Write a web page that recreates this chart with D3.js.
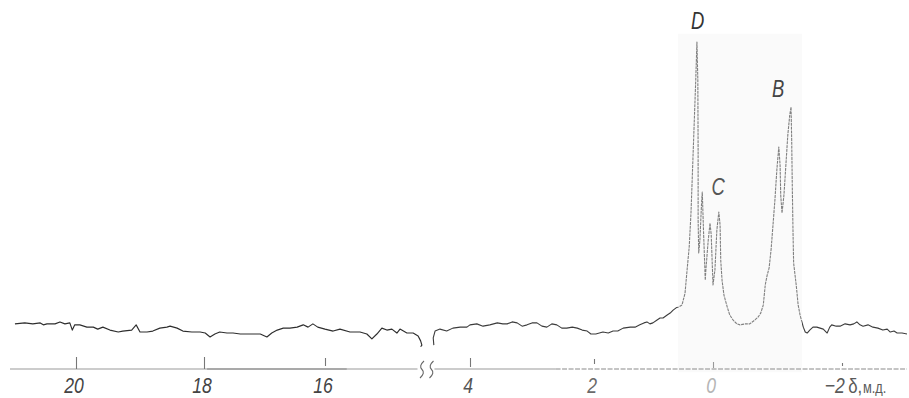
<!DOCTYPE html>
<html>
<head>
<meta charset="utf-8">
<script src="https://cdn.jsdelivr.net/npm/d3@7"></script>
<style>
  body { margin: 0; background: #fff; }
  svg { display: block; }
  .lbl { font-family: "Liberation Sans", Arial, sans-serif; font-style: italic; }
  .unit { font-family: "Liberation Sans", Arial, sans-serif; font-style: normal; }
</style>
</head>
<body>
<svg id="chart" width="909" height="398"></svg>
<script>
// chemical shift (ppm) and relative height (D peak = 100)
const leftShift = [20.99, 20.83, 20.70, 20.58, 20.53, 20.47, 20.34, 20.26, 20.18, 20.10, 20.06, 20.02,
  19.94, 19.83, 19.73, 19.66, 19.58, 19.47, 19.34, 19.27, 19.13, 19.06, 19.00, 18.89, 18.80, 18.69,
  18.58, 18.53, 18.42, 18.33, 18.19, 18.06, 17.98, 17.90, 17.82, 17.74, 17.62, 17.52, 17.40, 17.24,
  17.07, 16.96, 16.88, 16.79, 16.69, 16.58, 16.46, 16.36, 16.28, 16.20, 16.12, 16.00, 15.87, 15.76,
  15.60, 15.44, 15.33, 15.25, 15.17, 15.09, 15.01, 14.93, 14.85, 14.80, 14.69, 14.59, 14.51, 14.47,
  14.45, 14.47];
const leftHeight = [13.8, 14.1, 13.8, 14.1, 13.5, 13.8, 13.8, 14.4, 13.8, 14.1, 11.9, 13.5,
  13.5, 12.8, 12.8, 12.2, 12.8, 11.9, 11.3, 11.6, 11.9, 13.5, 11.3, 11.3, 11.6, 12.5,
  12.8, 13.1, 12.5, 11.6, 11.3, 11.3, 11.0, 9.8, 10.7, 11.3, 11.0, 11.0, 10.7, 10.7,
  10.7, 9.8, 11.0, 11.9, 12.5, 12.5, 12.8, 13.5, 12.8, 13.8, 12.8, 12.2, 11.6, 12.2,
  11.3, 11.3, 10.7, 9.2, 10.7, 12.5, 11.9, 12.2, 11.0, 12.2, 11.0, 11.0, 10.1, 8.6,
  7.3, 6.8];

const rightShift = [4.59, 4.60, 4.57, 4.49, 4.38, 4.28, 4.16, 4.05, 4.00, 3.89, 3.79, 3.68, 3.56,
  3.47, 3.40, 3.32, 3.24, 3.16, 3.08, 3.00, 2.92, 2.84, 2.76, 2.68, 2.60, 2.52, 2.44, 2.35, 2.27,
  2.19, 2.11, 2.05, 1.97, 1.85, 1.76, 1.68, 1.60, 1.51, 1.39, 1.31, 1.23, 1.16, 1.11, 1.06, 1.01,
  0.94, 0.89, 0.84, 0.77, 0.72, 0.67, 0.62, 0.57, 0.52, 0.47, 0.44, 0.40, 0.37, 0.35, 0.32, 0.29,
  0.27, 0.255, 0.25, 0.25, 0.24, 0.22, 0.19, 0.18, 0.16, 0.13, 0.12, 0.08, 0.05, 0.03, 0.00,
  -0.03, -0.06, -0.09, -0.11, -0.12, -0.14, -0.17, -0.22, -0.26, -0.31, -0.37, -0.42, -0.50,
  -0.57, -0.65, -0.70, -0.74, -0.78, -0.81, -0.84, -0.87, -0.90, -0.93, -0.96, -0.99, -1.02,
  -1.04, -1.05, -1.07, -1.10, -1.13, -1.16, -1.19, -1.21, -1.22, -1.23, -1.24, -1.25, -1.29,
  -1.32, -1.35, -1.40, -1.43, -1.46, -1.50, -1.55, -1.61, -1.66, -1.71, -1.77, -1.81, -1.84,
  -1.91, -1.97, -2.05, -2.13, -2.19, -2.24, -2.29, -2.34, -2.42, -2.50, -2.58, -2.66, -2.73,
  -2.78, -2.84, -2.89, -2.97, -3.05];
const rightHeight = [7.3, 9.5, 11.6, 12.2, 11.6, 12.5, 12.8, 12.8, 13.5, 13.8, 13.1, 13.5, 14.1,
  13.8, 13.8, 14.4, 14.1, 13.1, 13.5, 14.1, 14.1, 13.1, 12.8, 13.8, 13.5, 12.5, 12.5, 12.8, 12.5,
  11.9, 11.6, 10.7, 10.7, 11.3, 11.0, 11.6, 11.6, 12.5, 12.8, 12.8, 13.5, 14.1, 14.4, 13.8, 14.1,
  15.0, 15.6, 15.6, 16.5, 17.1, 18.0, 18.7, 19.0, 19.6, 23.2, 29.4, 37.3, 47.7, 57.8, 73.1, 88.4,
  100, 88.4, 67.0, 45.6, 35.5, 39.4, 51.7, 54.1, 42.5, 27.2, 30.3, 39.4, 44.6, 41.0, 25.7,
  30.3, 42.5, 48.0, 44.0, 33.3, 27.2, 22.6, 19.0, 16.5, 15.0, 13.8, 13.5, 13.8,
  13.8, 15.0, 15.9, 17.1, 19.6, 25.7, 28.7, 30.9, 36.4, 44.0, 51.7, 60.9, 67.9,
  62.4, 53.2, 47.7, 53.2, 62.4, 71.6, 77.7, 80.1, 70.0, 55.0, 42.5, 32.4, 25.7,
  19.6, 16.5, 12.8, 11.3, 11.0, 11.9, 12.8, 12.8, 12.5, 12.2, 11.0, 12.8, 13.5,
  13.1, 13.1, 13.8, 13.5, 13.8, 14.4, 13.5, 13.1, 13.5, 12.8, 12.5, 11.9, 12.2,
  11.3, 11.6, 11.0, 11.0, 10.7];

const leftTicks = [20, 18, 16];
const rightTicks = [4, 2, 0, -2];
const peakNames = ["D", "C", "B"];
const peakShift = [0.26, -0.08, -1.01];
const peakHeight = [104, 53.2, 83.2];
const expandedRange = [0.59, -1.38];   // shaded (expanded) region, ppm

const W = 909, H = 398;
const SQUEEZE = "scale(0.8,1)";        // narrow drafting lettering
const svg = d3.select("#chart");
svg.append("rect").attr("width", W).attr("height", H).attr("fill", "#fff");

// broken axis: two pieces, each a little uneven like the paper scale
const xLeft = d3.scaleLinear().domain([21.07, 20, 18, 16, 14.40]).range([10, 76, 204, 325, 425]);
const xRight = d3.scaleLinear().domain([4.62, 4, 2, 0, -2, -3.05]).range([432, 470, 594, 713, 842, 907]);
const y = d3.scaleLinear().domain([0, 100]).range([369, 42]);
const axisY = y(0);

// expanded region backdrop
const shadeX0 = xRight(expandedRange[0]), shadeX1 = xRight(expandedRange[1]);
svg.append("rect")
  .attr("x", shadeX0).attr("y", y(102.5))
  .attr("width", shadeX1 - shadeX0).attr("height", y(-1) - y(102.5))
  .attr("fill", "#fafafa");
svg.append("clipPath").attr("id", "inside")
  .append("rect").attr("x", shadeX0).attr("y", 0).attr("width", shadeX1 - shadeX0).attr("height", H);
svg.append("clipPath").attr("id", "outside")
  .append("path").attr("d", `M0,0H${shadeX0}V${H}H0Z M${shadeX1},0H${W}V${H}H${shadeX1}Z`);

// axis lines
const axisParts = [
  { x: xLeft, from: 21.07, to: 17.95, color: "#9a9a9a", dash: null },
  { x: xLeft, from: 17.95, to: 15.65, color: "#555", dash: null },
  { x: xLeft, from: 15.65, to: 14.52, color: "#9a9a9a", dash: null },
  { x: xRight, from: 4.58, to: 2.62, color: "#999", dash: null },
  { x: xRight, from: 2.62, to: -3.05, color: "#8a8a8a", dash: "5,1.5" }
];
svg.selectAll(".axis-part").data(axisParts).join("line")
  .attr("class", "axis-part")
  .attr("x1", d => d.x(d.from)).attr("x2", d => d.x(d.to))
  .attr("y1", axisY).attr("y2", axisY)
  .attr("stroke", d => d.color).attr("stroke-width", 1.2)
  .attr("stroke-dasharray", d => d.dash);

// break marks on the axis
[xLeft.range().at(-1) - 3, xRight.range()[0] - 0.5].forEach(bx => {
  svg.append("path")
    .attr("d", `M${bx + 2},361 Q${bx - 3.5},366 ${bx},369.5 Q${bx + 3.5},373 ${bx - 2},378`)
    .attr("fill", "none").attr("stroke", "#666").attr("stroke-width", 1.1);
});

// ticks and labels
const tickSpan = { 20: [-12, 0], 18: [-12, 0], 16: [-11, -3], 4: [-11, -2], 2: [-10, -5], 0: [-7, -1], "-2": [-6, -3] };
const tickInk = { 20: "#444", 18: "#444", 16: "#444", 4: "#555", 2: "#6a6a6a", 0: "#b5b5b5", "-2": "#5a5a5a" };
const fmt = d => d < 0 ? "\u2212" + (-d) : String(d);

function drawAxis(scale, ticks) {
  const g = svg.append("g").attr("transform", `translate(0,${axisY})`)
    .call(d3.axisBottom(scale).tickValues(ticks).tickFormat(fmt)
      .tickSizeInner(-12).tickSizeOuter(0).tickPadding(8));
  g.select(".domain").remove();
  g.attr("font-family", null).attr("font-size", null);
  g.selectAll(".tick line")
    .attr("y1", d => tickSpan[d][0]).attr("y2", d => tickSpan[d][1])
    .attr("stroke", d => d === 0 ? "#999" : "#777").attr("stroke-width", 1.1);
  g.selectAll(".tick text")
    .attr("class", "lbl")
    .attr("font-size", 22)
    .attr("fill", d => tickInk[d])
    .attr("text-anchor", d => d < 0 ? "end" : "middle")
    .attr("x", d => d < 0 ? 3 : -3)
    .attr("transform", SQUEEZE);
}
drawAxis(xLeft, leftTicks);
drawAxis(xRight, rightTicks);

// unit label after −2
svg.append("text").attr("class", "unit")
  .attr("transform", `translate(${xRight(-2.1)},393) ${SQUEEZE}`)
  .attr("fill", "#5a5a5a").attr("font-size", 21)
  .text("\u03b4,")
  .append("tspan").attr("font-size", 16).attr("dx", 1).text("м.д.");

// spectrum trace
const leftData = leftShift.map((s, i) => [s, leftHeight[i]]);
const rightData = rightShift.map((s, i) => [s, rightHeight[i]]);
const lineL = d3.line().x(d => xLeft(d[0])).y(d => y(d[1]));
const lineR = d3.line().x(d => xRight(d[0])).y(d => y(d[1]));

svg.append("path").attr("d", lineL(leftData))
  .attr("fill", "none").attr("stroke", "#2e2e2e").attr("stroke-width", 1.15).attr("stroke-linejoin", "round");
svg.append("path").attr("d", lineR(rightData)).attr("clip-path", "url(#outside)")
  .attr("fill", "none").attr("stroke", "#3c3c3c").attr("stroke-width", 1.1).attr("stroke-linejoin", "round");
svg.append("path").attr("d", lineR(rightData)).attr("clip-path", "url(#inside)")
  .attr("fill", "none").attr("stroke", "#808080").attr("stroke-width", 1.1)
  .attr("stroke-dasharray", "3,0.8").attr("stroke-linejoin", "round");

// peak letters
svg.selectAll(".peak").data(peakNames).join("text")
  .attr("class", "lbl peak")
  .attr("transform", (d, i) => `translate(${xRight(peakShift[i])},${y(peakHeight[i])}) ${SQUEEZE}`)
  .attr("text-anchor", "middle")
  .attr("font-size", 23)
  .attr("fill", (d, i) => ["#333", "#555", "#444"][i])
  .text(d => d);
</script>
</body>
</html>
